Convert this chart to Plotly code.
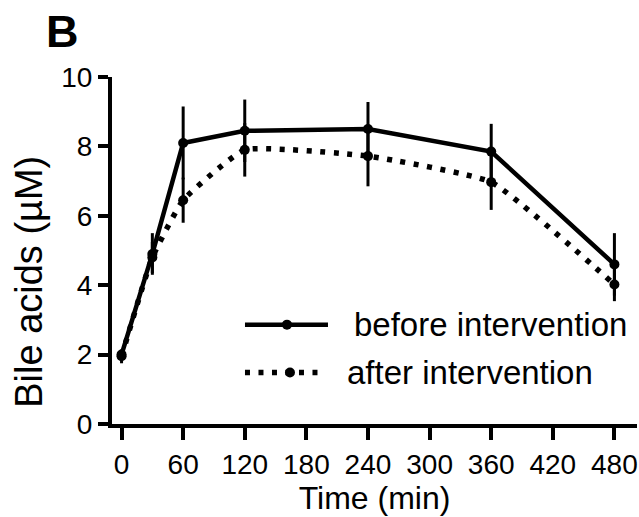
import plotly.graph_objects as go

# Sampling times (min)
time_min = [0, 30, 60, 120, 240, 360, 480]

# Bile acids (µM), mean and SEM
before_mean = [2.0, 4.9, 8.1, 8.45, 8.5, 7.85, 4.6]
before_sem = [0.1, 0.6, 1.05, 0.9, 0.78, 0.8, 0.9]
after_mean = [1.95, 4.8, 6.45, 7.9, 7.72, 6.97, 4.02]
after_sem = [0.2, 0.45, 0.65, 0.77, 0.87, 0.8, 0.48]

series_names = ["before intervention", "after intervention"]
x_ticks = [0, 60, 120, 180, 240, 300, 360, 420, 480]
y_ticks = [0, 2, 4, 6, 8, 10]

FONT = "Liberation Sans, Arial, Helvetica, sans-serif"
BLACK = "#000000"
DOTS = "5px,8.5px"

fig = go.Figure()

fig.add_trace(go.Scatter(
    x=time_min, y=after_mean, name=series_names[1], mode="lines+markers",
    line=dict(color=BLACK, width=5.5, dash=DOTS, shape="spline", smoothing=0.4),
    marker=dict(color=BLACK, size=10),
    error_y=dict(type="data", array=after_sem, color=BLACK, thickness=3, width=0),
    showlegend=False,
))
fig.add_trace(go.Scatter(
    x=time_min, y=before_mean, name=series_names[0], mode="lines+markers",
    line=dict(color=BLACK, width=4.5),
    marker=dict(color=BLACK, size=10),
    error_y=dict(type="data", array=before_sem, color=BLACK, thickness=3, width=0),
    showlegend=False,
))

# Legend drawn as line samples with a centre dot, plus labels
legend_rows = [
    dict(x0=0.2533, x1=0.4114, xm=0.3333, y=0.2863, dash="solid", w=4.5,
         tx=0.457, text=series_names[0]),
    dict(x0=0.2533, x1=0.3962, xm=0.339, y=0.1482, dash=DOTS, w=5.5,
         tx=0.444, text=series_names[1]),
]
shapes = []
annotations = []
for row in legend_rows:
    shapes.append(dict(type="line", xref="paper", yref="paper",
                       x0=row["x0"], x1=row["x1"], y0=row["y"], y1=row["y"],
                       line=dict(color=BLACK, width=row["w"], dash=row["dash"])))
    shapes.append(dict(type="circle", xref="paper", yref="paper",
                       xsizemode="pixel", ysizemode="pixel",
                       xanchor=row["xm"], yanchor=row["y"],
                       x0=-5, x1=5, y0=-5, y1=5,
                       fillcolor=BLACK, line=dict(color=BLACK, width=0)))
    annotations.append(dict(xref="paper", yref="paper", x=row["tx"], y=row["y"],
                            xanchor="left", yanchor="middle", showarrow=False,
                            text=row["text"], font=dict(family=FONT, size=33, color=BLACK)))

# Panel letter
annotations.append(dict(xref="paper", yref="paper", x=-0.0952, y=1.1324,
                        xanchor="center", yanchor="middle", showarrow=False,
                        text="<b>B</b>", font=dict(family=FONT, size=45, color=BLACK)))

# Y-axis title
annotations.append(dict(xref="paper", yref="paper", x=-0.158, y=0.41,
                        xanchor="center", yanchor="middle", showarrow=False, textangle=-90,
                        text="Bile acids (µM)", font=dict(family=FONT, size=38, color=BLACK)))

fig.update_layout(
    width=639, height=517,
    margin=dict(l=112, r=2, t=77, b=92.5),
    paper_bgcolor="white", plot_bgcolor="white",
    font=dict(family=FONT, color=BLACK),
    shapes=shapes, annotations=annotations,
    xaxis=dict(
        range=[-9.3, 502], tickvals=x_ticks, ticktext=[str(v) for v in x_ticks],
        showgrid=False, zeroline=False, showline=True, linecolor=BLACK, linewidth=4,
        ticks="outside", ticklen=12, tickwidth=4, tickcolor=BLACK,
        tickfont=dict(family=FONT, size=28, color=BLACK),
        title=dict(text="Time (min)", font=dict(family=FONT, size=32, color=BLACK), standoff=6),
    ),
    yaxis=dict(
        range=[0, 10], tickvals=y_ticks, ticktext=[str(v) for v in y_ticks],
        showgrid=False, zeroline=False, showline=True, linecolor=BLACK, linewidth=4,
        ticks="outside", ticklen=10, tickwidth=4, tickcolor=BLACK,
        tickfont=dict(family=FONT, size=28, color=BLACK),
    ),
)

fig.write_html("out.html")
